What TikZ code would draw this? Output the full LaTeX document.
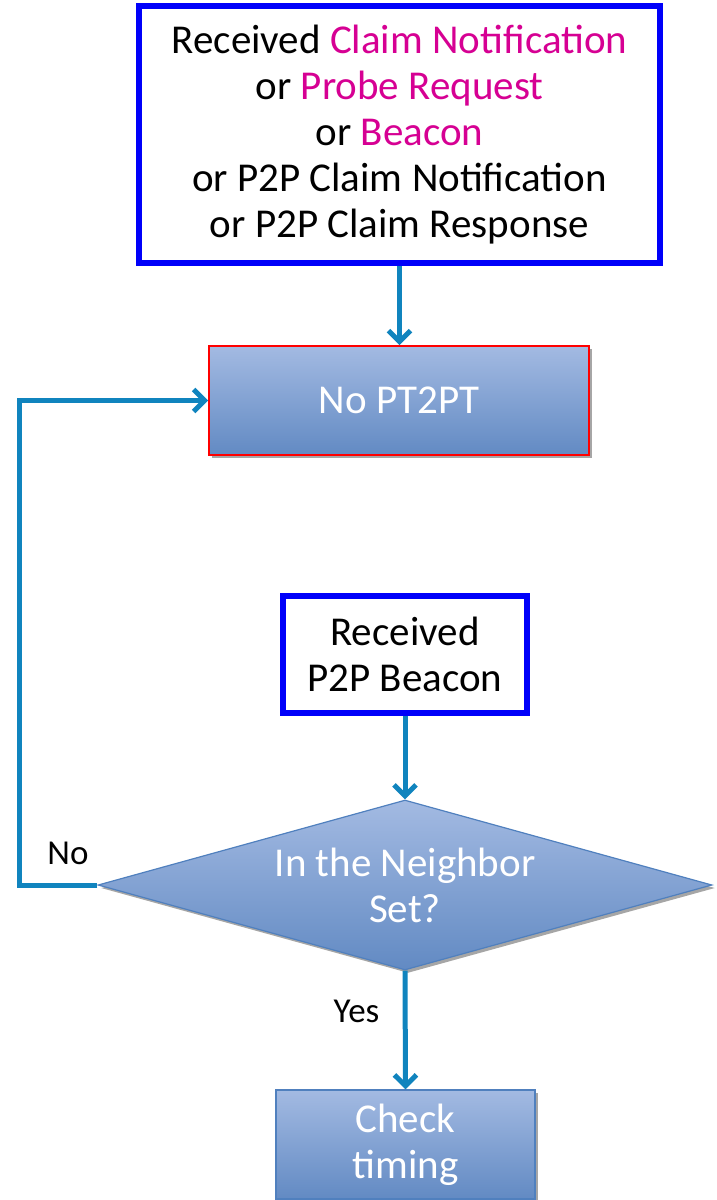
\documentclass[tikz,border=0pt]{standalone}
\usepackage{fontspec}
\setmainfont{Carlito}
\usetikzlibrary{arrows.meta,shapes.geometric,shadows}
\definecolor{bluebox}{RGB}{0,0,250}
\definecolor{magtext}{RGB}{214,0,147}
\definecolor{arrowc}{RGB}{16,132,190}
\definecolor{gradtop}{RGB}{163,186,226}
\definecolor{gradbot}{RGB}{98,138,195}
\definecolor{shapeedge}{RGB}{80,128,190}
\begin{document}
\begin{tikzpicture}[x=1pt,y=-1pt,
 bigtext/.style={font=\fontsize{41}{46}\selectfont},
 inbox/.style={draw=bluebox, line width=6pt, fill=white, align=center, inner sep=0pt, bigtext},
 procbox/.style={top color=gradtop, bottom color=gradbot, text=white, align=center, inner sep=0pt, bigtext,
   general shadow={fill=black!35, shadow xshift=3pt, shadow yshift=-3pt}},
 conn/.style={draw=arrowc, line width=5pt, -{Straight Barb[length=11pt,width=22pt]}},
 lbl/.style={font=\fontsize{35}{40}\selectfont, text=black}]
\useasboundingbox (0,0) rectangle (716,1200);
\clip (0,0) rectangle (716,1200);

\node[inbox, minimum width=521, minimum height=257] (top) at (399.5,134.5)
 {\raisebox{-3pt}{\parbox{500pt}{\centering Received \textcolor{magtext}{Claim Notification}\\ or \textcolor{magtext}{Probe Request}\\ or \textcolor{magtext}{Beacon}\\ or P2P Claim Notification\\ or P2P Claim Response}}};

\node[procbox, draw=red, line width=1.6pt, minimum width=380, minimum height=109] (nopt) at (399,400.5) {No PT2PT};

\node[inbox, minimum width=244, minimum height=117] (beacon) at (405,654.5) {Received\\P2P Beacon};

\node[procbox, diamond, draw=shapeedge, line width=1.2pt, minimum width=614, minimum height=170, aspect=3.6] (dec) at (405,885) {In the Neighbor\\Set?};

\node[procbox, draw=shapeedge, line width=1.2pt, minimum width=259, minimum height=109] (chk) at (405.5,1144.5) {Check\\timing};

\draw[conn] (top.south) -- (top.south |- nopt.north);
\draw[conn] (beacon.south) -- (dec.north);
\draw[conn] (dec.west) -- ++(-78,0) |- (nopt.west);
\draw[conn] (dec.south) -- (chk.north) node[pos=0.34, lbl, anchor=east, xshift=-20pt] (yes) {Yes};
\node[lbl] (no) at (68,853) {No};
\end{tikzpicture}
\end{document}
